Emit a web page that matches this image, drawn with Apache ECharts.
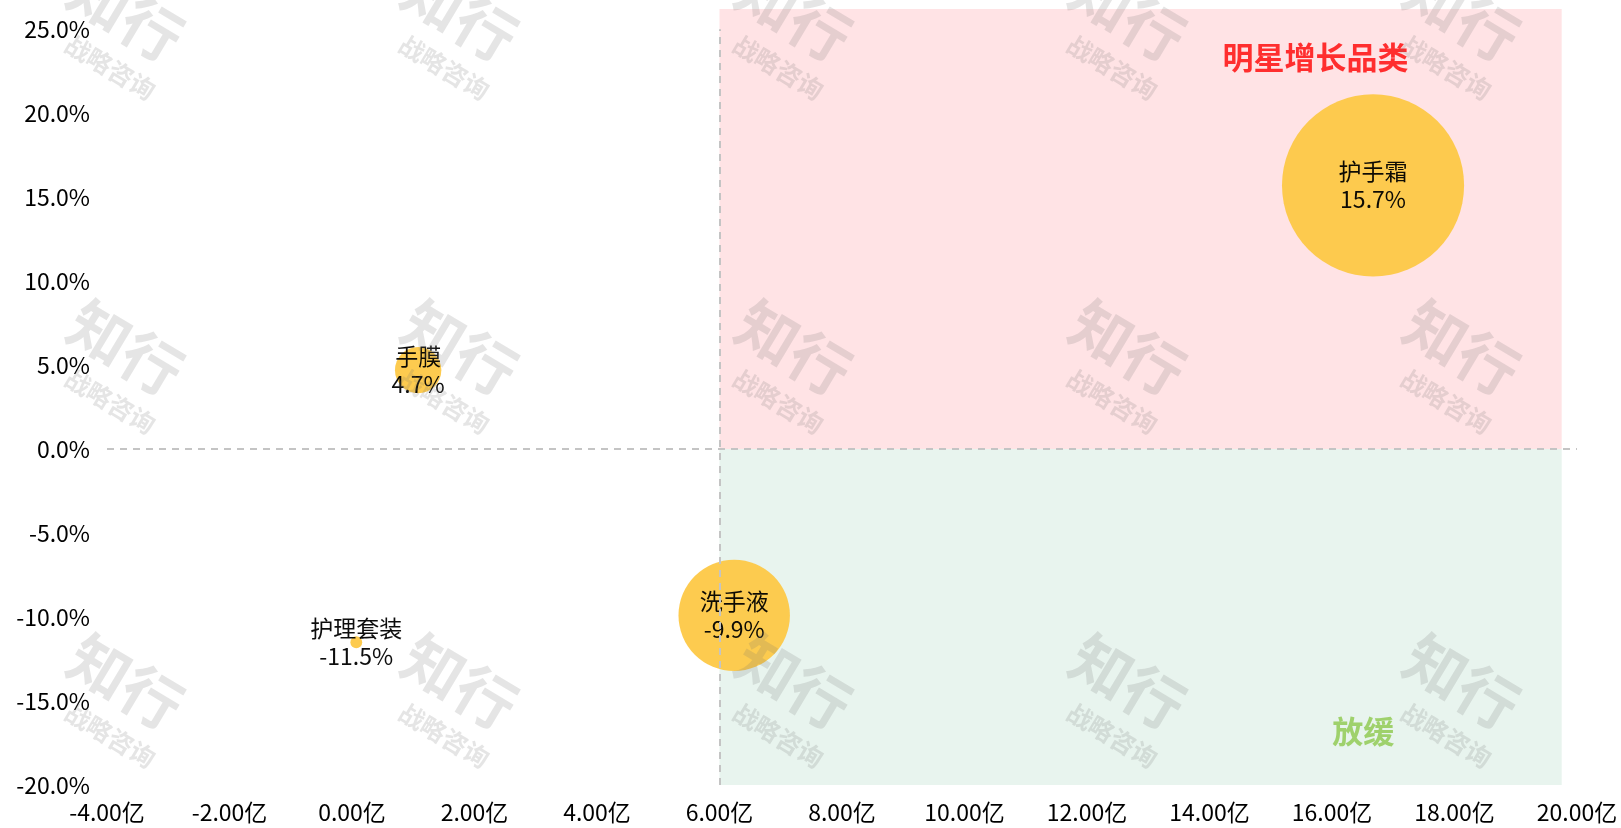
<!DOCTYPE html>
<html>
<head>
<meta charset="utf-8">
<script src="https://cdn.jsdelivr.net/npm/echarts@6/dist/echarts.min.js"></script>
<style>
html,body{margin:0;padding:0;background:#fff;}
#main{width:1621px;height:828px;}
</style>
</head>
<body>
<div id="main"></div>
<script>
// categories and values
var names = ['护手霜', '洗手液', '手膜', '护理套装'];
var sales = [16.67, 6.24, 1.08, 0.07];      // 亿
var growth = [15.7, -9.9, 4.7, -11.5];      // %

// quadrant captions
var quadNames = ['明星增长品类', '放缓'];
var quadColors = ['#FF0000', '#8CC84B'];
var quadX = [15.73, 16.51];
var quadY = [23.3, -16.8];

// axis range
var xTicks = [-4, 20, 2];
var yTicks = [-20, 26.2, 5];
var splitX = 6;
var areaRight = 19.75;

var font = '"Noto Sans CJK SC", "Noto Sans", sans-serif';

var bubbles = [];
for (var i = 0; i < names.length; i++) {
    bubbles.push({name: names[i], value: [sales[i], growth[i]]});
}
var captions = [];
for (var k = 0; k < quadNames.length; k++) {
    captions.push({
        name: quadNames[k],
        value: [quadX[k], quadY[k]],
        label: {color: quadColors[k]}
    });
}

// watermark tiles
var marks = [];
for (var r = 0; r < 3; r++) {
    for (var c = 0; c < 5; c++) {
        marks.push({
            type: 'group',
            x: 126 + c * 334,
            y: 14 + r * 334,
            rotation: -31 * Math.PI / 180,
            silent: true,
            children: [
                {type: 'text', z: 100, style: {text: '知行', x: 0, y: 0, align: 'center', verticalAlign: 'middle',
                    font: 'bold 60px ' + font, fill: 'rgba(110,110,110,0.18)'}},
                {type: 'text', z: 100, style: {text: '战略咨询', x: 14, y: 54, align: 'center', verticalAlign: 'middle',
                    font: 'bold 25px ' + font, fill: 'rgba(110,110,110,0.18)', letterSpacing: 3}}
            ]
        });
    }
}

var myChart = echarts.init(document.getElementById('main'));
var option = {
    backgroundColor: '#fff',
    animation: false,
    grid: {left: 107, right: 44, top: 9, bottom: 43, containLabel: false},
    xAxis: {
        type: 'value',
        min: xTicks[0], max: xTicks[1], interval: xTicks[2],
        axisLine: {show: false}, axisTick: {show: false}, splitLine: {show: false},
        axisLabel: {
            margin: 16, color: '#000', fontSize: 23, fontFamily: font,
            formatter: function (v) { return v.toFixed(2) + '亿'; }
        }
    },
    yAxis: {
        type: 'value',
        min: yTicks[0], max: yTicks[1], interval: yTicks[2],
        axisLine: {show: false}, axisTick: {show: false}, splitLine: {show: false},
        axisLabel: {
            margin: 17, color: '#000', fontSize: 23, fontFamily: font,
            showMaxLabel: false,
            formatter: function (v) { return v % 5 === 0 ? v.toFixed(1) + '%' : ''; }
        }
    },
    graphic: marks,
    series: [
        {
            type: 'scatter',
            z: 2,
            data: [],
            markArea: {
                silent: true,
                data: [
                    [{xAxis: splitX, yAxis: 0, itemStyle: {color: '#FFE3E5'}}, {xAxis: areaRight, yAxis: yTicks[1]}],
                    [{xAxis: splitX, yAxis: yTicks[0], itemStyle: {color: '#E8F4EE'}}, {xAxis: areaRight, yAxis: 0}]
                ]
            }
        },
        {
            type: 'scatter',
            z: 3,
            data: bubbles,
            symbolSize: function (val) { return Math.sqrt(val[0]) * 44.6; },
            itemStyle: {color: '#FDC846', opacity: 0.95},
            label: {
                show: true, position: 'inside', color: '#000', fontSize: 23, lineHeight: 28, fontFamily: font,
                formatter: function (p) { return p.name + '\n' + p.value[1].toFixed(1) + '%'; }
            }
        },
        {
            type: 'scatter',
            z: 4,
            data: [],
            markLine: {
                silent: true,
                symbol: 'none',
                label: {show: false},
                lineStyle: {color: '#C4C4C4', width: 2, type: [7, 6]},
                data: [
                    [{coord: [xTicks[0], 0]}, {coord: [xTicks[1], 0]}],
                    [{coord: [splitX, yTicks[0]]}, {coord: [splitX, 25]}]
                ]
            }
        },
        {
            type: 'scatter',
            z: 5,
            symbolSize: 0,
            data: captions,
            label: {
                show: true, position: 'inside', fontSize: 31, fontWeight: 'bold', fontFamily: font,
                formatter: '{b}'
            }
        }
    ]
};
myChart.setOption(option);
</script>
</body>
</html>
